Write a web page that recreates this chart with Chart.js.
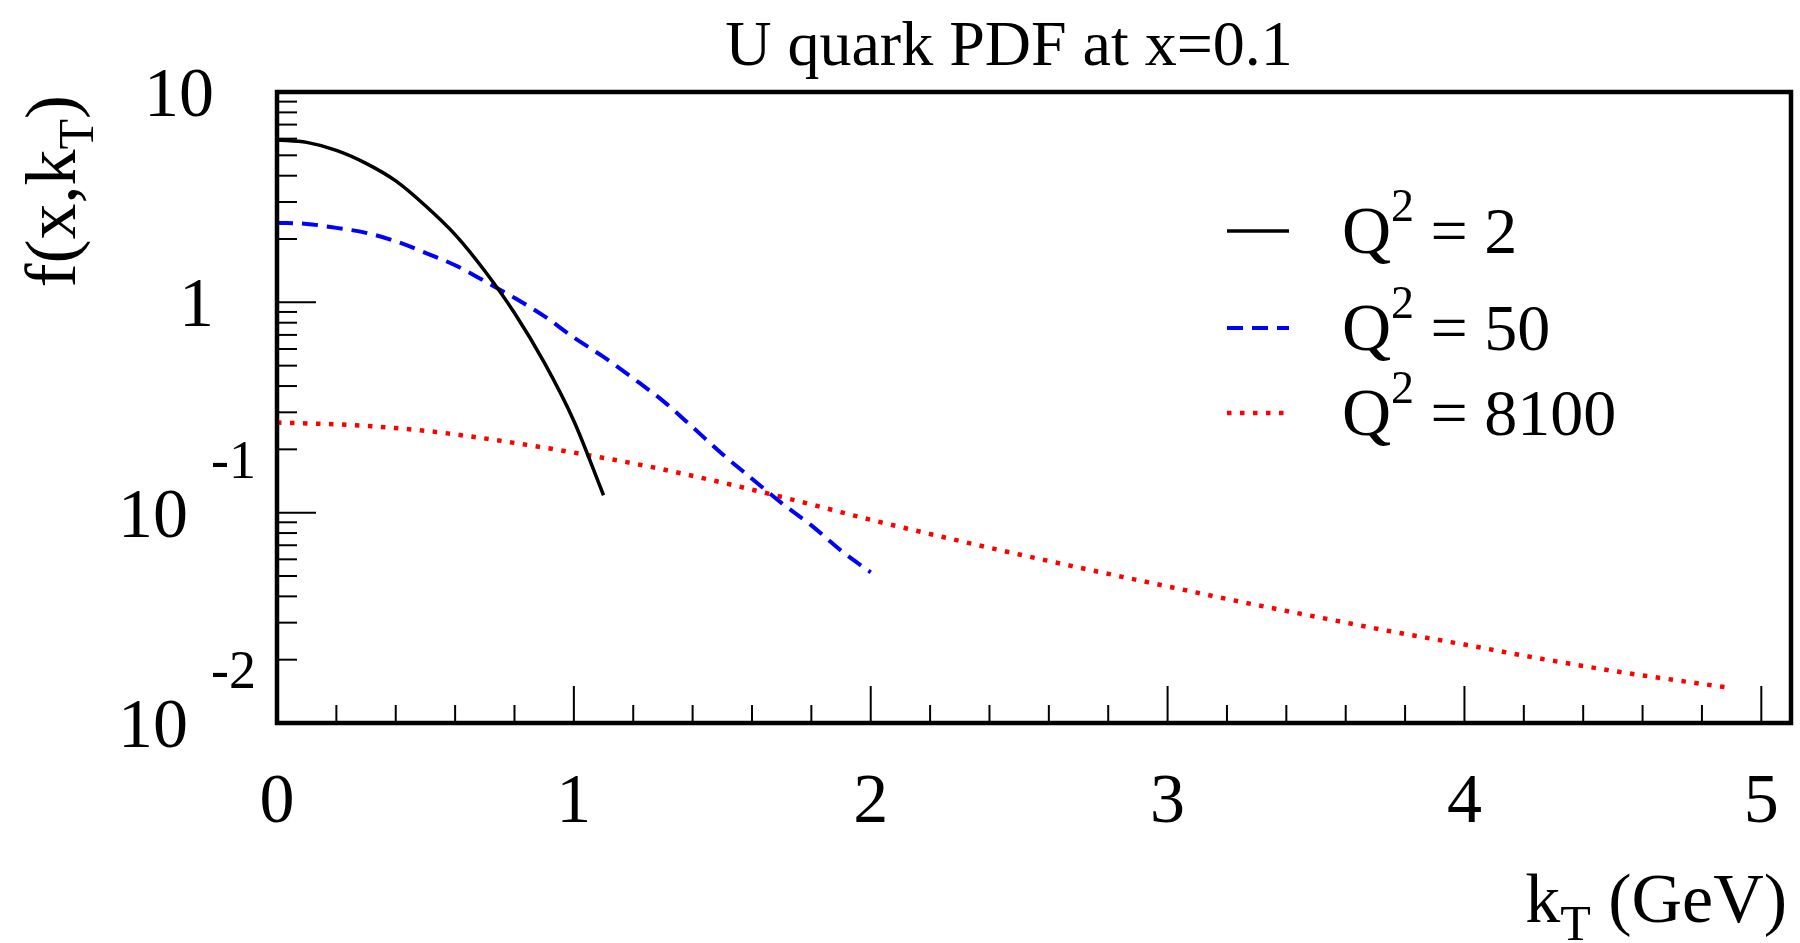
<!DOCTYPE html>
<html>
<head>
<meta charset="utf-8">
<script src="https://cdn.jsdelivr.net/npm/chart.js@4.4.1/dist/chart.umd.min.js"></script>
<style>
  html, body { margin: 0; padding: 0; background: #fff; }
  canvas { display: block; }
</style>
</head>
<body>
<canvas id="myChart" width="1800" height="943"></canvas>
<script>
// valores (kT em GeV, f(x,kT) em escala log)
const kT_q2 = [0, 0.1, 0.2, 0.3, 0.4, 0.5, 0.6, 0.7, 0.8, 0.9, 1.0, 1.1];
const f_q2 = [5.92, 5.76, 5.28, 4.58, 3.78, 2.88, 2.10, 1.41, 0.89, 0.518, 0.273, 0.121];

const kT_q50 = [0, 0.1, 0.2, 0.3, 0.4, 0.5, 0.6, 0.7, 0.8, 0.9, 1.0, 1.1, 1.2, 1.3, 1.4, 1.5, 1.6, 1.7, 1.8, 1.9, 2.0];
const f_q50 = [2.39, 2.36, 2.26, 2.14, 1.95, 1.72, 1.50, 1.26, 1.05, 0.86, 0.68, 0.55, 0.435, 0.34, 0.255, 0.19, 0.145, 0.111, 0.087, 0.066, 0.052];

const kT_q8100 = [0, 0.25, 0.5, 0.75, 1.0, 1.25, 1.5, 1.75, 2.0, 2.25, 2.5, 2.75, 3.0, 3.25, 3.5, 3.75, 4.0, 4.25, 4.5, 4.75, 4.88];
const f_q8100 = [0.268, 0.261, 0.245, 0.220, 0.193, 0.166, 0.139, 0.114, 0.0925, 0.0762, 0.0633, 0.053, 0.0446, 0.0376, 0.032, 0.0273, 0.0236, 0.0203, 0.0177, 0.0157, 0.0148];

const legendValues = ['2', '50', '8100'];

const xTickValues = [0, 1, 2, 3, 4, 5];
const xTickLabels = ['0', '1', '2', '3', '4', '5'];
const yTickValues = [10, 1, 0.1, 0.01];
const yTickBase = ['10', '1', '10', '10'];
const yTickExp = ['', '', '-1', '-2'];

const SERIF = '"Liberation Serif", "Times New Roman", serif';

function pts(xs, ys) {
    return xs.map((v, i) => ({ x: v, y: ys[i] }));
}

// desenha texto com sub/sobrescrito
function richText(ctx, parts, x, y, align) {
    let total = 0;
    parts.forEach(p => {
        ctx.font = p.size + 'px ' + SERIF;
        p.w = ctx.measureText(p.t).width;
        total += p.w;
    });
    let cx = x;
    if (align === 'right') cx = x - total;
    if (align === 'center') cx = x - total / 2;
    ctx.textAlign = 'left';
    ctx.textBaseline = 'alphabetic';
    parts.forEach(p => {
        ctx.font = p.size + 'px ' + SERIF;
        ctx.fillText(p.t, cx, y + (p.dy || 0));
        cx += p.w;
    });
}

const rootStyle = {
    id: 'rootStyle',
    afterDraw(chart) {
        const { ctx, chartArea: a, scales: { x, y } } = chart;
        ctx.save();
        ctx.fillStyle = '#000';
        ctx.strokeStyle = '#000';

        // ticks do eixo x
        ctx.lineWidth = 2;
        for (let i = 1; i <= 25; i++) {
            const v = i * 0.2;
            const px = x.getPixelForValue(v);
            const len = (i % 5 === 0) ? 37 : 18;
            ctx.beginPath();
            ctx.moveTo(px, a.bottom);
            ctx.lineTo(px, a.bottom - len);
            ctx.stroke();
        }
        // ticks do eixo y (log)
        [0.01, 0.1, 1].forEach(d => {
            for (let m = 1; m <= 9; m++) {
                const v = m * d;
                if (v <= 0.01) continue;
                const py = y.getPixelForValue(v);
                const len = (m === 1) ? 39 : 20;
                ctx.beginPath();
                ctx.moveTo(a.left, py);
                ctx.lineTo(a.left + len, py);
                ctx.stroke();
            }
        });

        // moldura
        ctx.lineWidth = 4.5;
        ctx.strokeRect(a.left, a.top, a.right - a.left, a.bottom - a.top);

        // rotulos do eixo x
        ctx.font = '70px ' + SERIF;
        ctx.textAlign = 'center';
        ctx.textBaseline = 'alphabetic';
        xTickValues.forEach((v, i) => {
            ctx.fillText(xTickLabels[i], x.getPixelForValue(v), a.bottom + 99);
        });

        // rotulos do eixo y
        yTickValues.forEach((v, i) => {
            const py = y.getPixelForValue(v);
            ctx.textBaseline = 'alphabetic';
            if (yTickExp[i]) {
                ctx.font = '70px ' + SERIF;
                ctx.textAlign = 'right';
                ctx.fillText(yTickBase[i], a.left - 89, py + 24);
                ctx.font = '54px ' + SERIF;
                ctx.textAlign = 'left';
                ctx.fillText(yTickExp[i], a.left - 66, py + 24 - 59);
            } else {
                ctx.font = '70px ' + SERIF;
                ctx.textAlign = 'right';
                ctx.fillText(yTickBase[i], a.left - 63, py + 24);
            }
        });

        // titulo
        ctx.font = '64px ' + SERIF;
        ctx.textAlign = 'center';
        ctx.fillText('U quark PDF at x=0.1', 1009, 65);

        // titulo do eixo x
        richText(ctx, [
            { t: 'k', size: 70 },
            { t: 'T', size: 50, dy: 18 },
            { t: ' (GeV)', size: 70 }
        ], 1787, 922, 'right');

        // titulo do eixo y
        ctx.save();
        ctx.translate(75, 95);
        ctx.rotate(-Math.PI / 2);
        richText(ctx, [
            { t: 'f(x,k', size: 72 },
            { t: 'T', size: 50, dy: 18 },
            { t: ')', size: 72 }
        ], 0, 0, 'right');
        ctx.restore();

        // legenda
        const rowsY = [231, 328, 413];
        const textY = [253, 350, 435];
        chart.data.datasets.forEach((ds, i) => {
            ctx.save();
            ctx.strokeStyle = ds.borderColor;
            ctx.lineWidth = ds.borderWidth;
            ctx.setLineDash(ds.borderDash || []);
            ctx.beginPath();
            ctx.moveTo(1227, rowsY[i]);
            ctx.lineTo(1289, rowsY[i]);
            ctx.stroke();
            ctx.restore();
            ctx.fillStyle = '#000';
            richText(ctx, [
                { t: 'Q', size: 68 },
                { t: '2', size: 46, dy: -32 },
                { t: ' = ' + legendValues[i], size: 66 }
            ], 1342, textY[i], 'left');
        });

        ctx.restore();
    }
};

const ctx = document.getElementById('myChart').getContext('2d');
const myChart = new Chart(ctx, {
    type: 'line',
    data: {
        datasets: [{
            label: 'Q2 = 2',
            data: pts(kT_q2, f_q2),
            borderColor: '#000000',
            borderWidth: 3.5
        }, {
            label: 'Q2 = 50',
            data: pts(kT_q50, f_q50),
            borderColor: '#0000ff',
            borderWidth: 4,
            borderDash: [16, 9]
        }, {
            label: 'Q2 = 8100',
            data: pts(kT_q8100, f_q8100),
            borderColor: '#ff0000',
            borderWidth: 4.5,
            borderDash: [4.5, 8.5]
        }]
    },
    options: {
        responsive: false,
        devicePixelRatio: 1,
        animation: false,
        layout: {
            padding: { left: 277, right: 9, top: 92, bottom: 220 }
        },
        elements: {
            point: { radius: 0 },
            line: { cubicInterpolationMode: 'monotone', fill: false, borderCapStyle: 'butt' }
        },
        scales: {
            x: { type: 'linear', min: 0, max: 5.1, display: false },
            y: { type: 'logarithmic', min: 0.01, max: 10, display: false }
        },
        plugins: {
            legend: { display: false },
            tooltip: { enabled: false }
        }
    },
    plugins: [rootStyle]
});
</script>
</body>
</html>
